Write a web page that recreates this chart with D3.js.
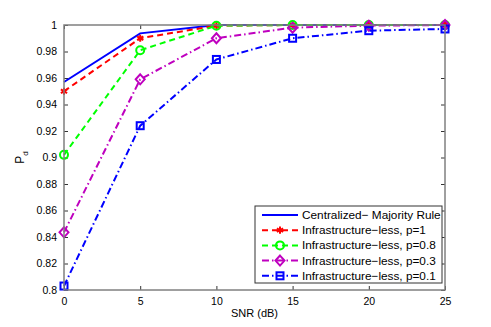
<!DOCTYPE html>
<html lang="en">
<head>
<meta charset="UTF-8">
<title>Pd vs SNR</title>
<script src="https://cdn.jsdelivr.net/npm/d3@7"></script>
<style>
  body { margin: 0; background: #fff; }
  text { font-family: "Liberation Sans", Arial, sans-serif; }
</style>
</head>
<body>
<div class="chart"></div>
<script>
  const width = 491
  const height = 327
  const margin = { top: 25, right: 46, bottom: 37, left: 64 }

  const snr = [0, 5, 10, 15, 20, 25]
  const centralized = [0.957, 0.9937, 1, 1, 1, 1]
  const pOne = [0.950, 0.990, 0.9995, 1, 1, 1]
  const pEight = [0.902, 0.981, 0.9995, 1, 1, 1]
  const pThree = [0.8435, 0.959, 0.990, 0.998, 0.9995, 1]
  const pOneTenth = [0.803, 0.924, 0.974, 0.990, 0.9957, 0.997]

  const xTicks = [0, 5, 10, 15, 20, 25]
  const yTicks = [0.8, 0.82, 0.84, 0.86, 0.88, 0.9, 0.92, 0.94, 0.96, 0.98, 1]

  const series = [
    { name: 'Centralized\u2212 Majority Rule', values: centralized, color: '#0000ff', dash: null, marker: null },
    { name: 'Infrastructure\u2212less, p=1', values: pOne, color: '#ff0000', dash: '6,4', marker: 'asterisk' },
    { name: 'Infrastructure\u2212less, p=0.8', values: pEight, color: '#00ff00', dash: '6,4', marker: 'circle' },
    { name: 'Infrastructure\u2212less, p=0.3', values: pThree, color: '#bf00bf', dash: '7,3,1.5,3', marker: 'diamond' },
    { name: 'Infrastructure\u2212less, p=0.1', values: pOneTenth, color: '#0000ff', dash: '7,3,1.5,3', marker: 'square' }
  ]

  const x = d3.scaleLinear().domain([0, 25]).range([margin.left, width - margin.right])
  const y = d3.scaleLinear().domain([0.8, 1]).range([height - margin.bottom, margin.top])

  const svg = d3.select('.chart').append('svg')
    .attr('width', width)
    .attr('height', height)

  const axisColor = '#808080'
  const tickLen = 4

  // axes with inward ticks on all four sides (matlab box)
  function styleAxis(g) {
    g.select('.domain').remove()
    g.selectAll('.tick line').attr('stroke', '#333')
    g.selectAll('.tick text').attr('fill', '#000').attr('font-size', 10.5)
  }

  svg.append('g')
    .attr('transform', `translate(0,${height - margin.bottom})`)
    .call(d3.axisBottom(x).tickValues(xTicks).tickSize(-tickLen).tickPadding(8).tickFormat(d3.format('d')))
    .call(styleAxis)

  svg.append('g')
    .attr('transform', `translate(0,${margin.top})`)
    .call(d3.axisTop(x).tickValues(xTicks).tickSize(-tickLen).tickFormat(''))
    .call(styleAxis)

  svg.append('g')
    .attr('transform', `translate(${margin.left},0)`)
    .call(d3.axisLeft(y).tickValues(yTicks).tickSize(-tickLen).tickPadding(7).tickFormat(d => String(+d.toFixed(2))))
    .call(styleAxis)

  svg.append('g')
    .attr('transform', `translate(${width - margin.right},0)`)
    .call(d3.axisRight(y).tickValues(yTicks).tickSize(-tickLen).tickFormat(''))
    .call(styleAxis)

  const line = d3.line()
    .x((d, i) => x(snr[i]))
    .y(d => y(d))

  const plot = svg.append('g')

  function drawMarker(g, type, color, cx, cy) {
    if (type === 'circle') {
      g.append('circle').attr('cx', cx).attr('cy', cy).attr('r', 4)
        .attr('fill', 'none').attr('stroke', color).attr('stroke-width', 2)
    } else if (type === 'diamond') {
      g.append('path').attr('d', `M${cx},${cy - 5}L${cx + 4.5},${cy}L${cx},${cy + 5}L${cx - 4.5},${cy}Z`)
        .attr('fill', 'none').attr('stroke', color).attr('stroke-width', 2)
    } else if (type === 'square') {
      g.append('rect').attr('x', cx - 3.5).attr('y', cy - 3.5).attr('width', 7).attr('height', 7)
        .attr('fill', 'none').attr('stroke', color).attr('stroke-width', 2)
    } else if (type === 'asterisk') {
      g.append('path').attr('transform', `translate(${cx},${cy})`)
        .attr('d', d3.symbol(d3.symbolAsterisk, 36)())
        .attr('fill', 'none').attr('stroke', color).attr('stroke-width', 2)
    }
  }

  series.forEach(s => {
    plot.append('path')
      .datum(s.values)
      .attr('d', line)
      .attr('fill', 'none')
      .attr('stroke', s.color)
      .attr('stroke-width', 2)
      .attr('stroke-dasharray', s.dash)
    if (s.marker) {
      const mg = plot.append('g')
      s.values.forEach((v, i) => drawMarker(mg, s.marker, s.color, x(snr[i]), y(v)))
    }
  })

  // box
  svg.append('rect')
    .attr('x', margin.left)
    .attr('y', margin.top)
    .attr('width', width - margin.left - margin.right)
    .attr('height', height - margin.top - margin.bottom)
    .attr('fill', 'none')
    .attr('stroke', axisColor)
    .attr('stroke-width', 1.5)

  // labels
  svg.append('text')
    .attr('x', (margin.left + width - margin.right) / 2)
    .attr('y', 317)
    .attr('text-anchor', 'middle')
    .attr('font-size', 11)
    .text('SNR (dB)')

  const yl = svg.append('text')
    .attr('transform', `translate(24,${(margin.top + height - margin.bottom) / 2}) rotate(-90)`)
    .attr('text-anchor', 'middle')
    .attr('font-size', 12)
  yl.append('tspan').text('P')
  yl.append('tspan').attr('font-size', 8).attr('dy', 4).text('d')

  // legend
  const lg = svg.append('g').attr('transform', 'translate(255,206)')
  lg.append('rect')
    .attr('width', 187)
    .attr('height', 77)
    .attr('fill', '#fff')
    .attr('stroke', '#333')
    .attr('stroke-width', 1)

  series.forEach((s, i) => {
    const ry = 9 + i * 15.2
    lg.append('line')
      .attr('x1', 7).attr('x2', 43)
      .attr('y1', ry).attr('y2', ry)
      .attr('stroke', s.color)
      .attr('stroke-width', 2)
      .attr('stroke-dasharray', s.dash)
    if (s.marker) drawMarker(lg, s.marker, s.color, 25, ry)
    lg.append('text')
      .attr('x', 47)
      .attr('y', ry + 4)
      .attr('font-size', 11.8)
      .text(s.name)
  })
</script>
</body>
</html>
